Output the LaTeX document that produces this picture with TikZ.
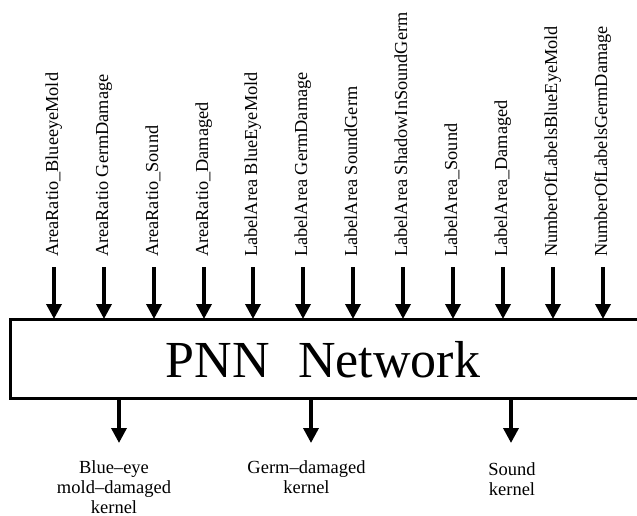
\documentclass[tikz,border=0pt]{standalone}
\usepackage{fontspec}
\setmainfont{Liberation Serif}
\usetikzlibrary{arrows.meta}
\begin{document}
\begin{tikzpicture}[x=1pt,y=-1pt,
  feat/.style={rotate=90, anchor=base west, inner sep=0, font=\fontsize{18.3}{20}\selectfont},
  arr/.style={line width=3.5pt, -{Triangle[length=15pt,width=15pt]}},
  outlbl/.style={anchor=north, align=center, inner sep=0, font=\fontsize{18.5}{20}\selectfont},
  netbox/.style={draw, line width=3pt, inner sep=0, outer sep=0, minimum width=650pt, minimum height=79pt, anchor=north west}]
\useasboundingbox (0,0) rectangle (637,516);
\clip (0,0) rectangle (637,516);
\node[netbox] (net) at (10,319) {};
\node[font=\fontsize{52}{52}\selectfont, inner sep=0, anchor=base] (title) at (323,377) {PNN\hspace{0.55em}Network};
\foreach \x/\t [count=\i] in {
  54/AreaRatio\_BlueeyeMold,
  104/AreaRatio GermDamage,
  154/AreaRatio\_Sound,
  204/AreaRatio\_Damaged,
  253/LabelArea BlueEyeMold,
  303/LabelArea GermDamage,
  353/LabelArea SoundGerm,
  403/LabelArea ShadowInSoundGerm,
  453/LabelArea\_Sound,
  503/LabelArea\_Damaged,
  553/NumberOfLabelsBlueEyeMold,
  603/NumberOfLabelsGermDamage} {
  \node[feat] (lab\i) at (\x+4,257) {\t};
  \coordinate (in\i) at (\x,267);
  \draw[arr] (in\i) -- (in\i |- net.north);
}
\coordinate (o1) at (119,443);
\coordinate (o2) at (311,443);
\coordinate (o3) at (511,443);
\foreach \i in {1,2,3} {
  \draw[arr] (net.south -| o\i) -- (o\i);
}
\node[outlbl] (out1) at (114,460) {Blue--eye\\mold--damaged\\kernel};
\node[outlbl] (out2) at (306.5,460) {Germ--damaged\\kernel};
\node[outlbl] (out3) at (512,462) {Sound\\kernel};
\end{tikzpicture}
\end{document}
